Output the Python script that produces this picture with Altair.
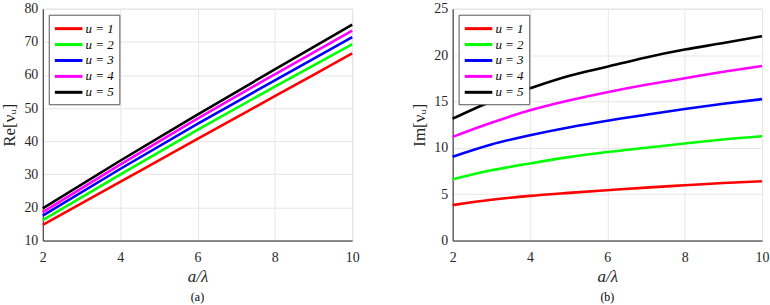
import altair as alt
import pandas as pd

# Normalised aperture a/lambda
re_x = [2, 4, 6, 8, 10]
im_x = [2, 3, 4, 5, 6, 7, 8, 9, 10]

series = ["u = 1", "u = 2", "u = 3", "u = 4", "u = 5"]
colors = ["#ff0000", "#00ff00", "#0000ff", "#ff00ff", "#000000"]

# Real part of nu_u for each mode u
re_vals = {
    "u = 1": [14.7, 27.7, 40.7, 53.6, 66.5],
    "u = 2": [16.2, 29.9, 43.4, 56.5, 69.3],
    "u = 3": [17.5, 31.6, 45.2, 58.4, 71.4],
    "u = 4": [18.6, 32.9, 46.8, 60.2, 73.4],
    "u = 5": [19.7, 34.1, 48.0, 61.7, 75.2],
}

# Imaginary part of nu_u for each mode u
im_vals = {
    "u = 1": [3.82, 4.39, 4.82, 5.14, 5.43, 5.71, 5.96, 6.21, 6.39],
    "u = 2": [6.60, 7.57, 8.32, 9.00, 9.54, 10.00, 10.46, 10.90, 11.25],
    "u = 3": [9.04, 10.36, 11.36, 12.20, 12.93, 13.57, 14.18, 14.75, 15.25],
    "u = 4": [11.18, 12.70, 14.04, 15.10, 16.00, 16.80, 17.50, 18.20, 18.82],
    "u = 5": [13.14, 15.00, 16.43, 17.75, 18.75, 19.75, 20.60, 21.30, 22.04],
}


def long_table(xs, vals):
    rows = []
    for s in series:
        for x, v in zip(xs, vals[s]):
            rows.append({"x": x, "v": v, "u": s})
    return pd.DataFrame(rows)


re_df = long_table(re_x, re_vals)
im_df = long_table(im_x, im_vals)

SERIF = "Liberation Serif"
INK = "#262626"
W, H = 311, 233


def panel(df, ymin, ymax, ystep, ytitle, tag):
    x_axis = alt.Axis(
        values=[2, 4, 6, 8, 10], title="a/λ", titleFont=SERIF, titleFontSize=17,
        titleFontStyle="italic", titleFontWeight="normal", titleColor=INK,
        titlePadding=4, labelFont=SERIF, labelFontSize=14, labelColor=INK,
        labelPadding=10, ticks=False, domainColor=INK, gridColor="#e6e6e6",
        labelFlush=False,
    )
    y_axis = alt.Axis(
        values=list(range(ymin, ymax + 1, ystep)), title=ytitle, titleFont=SERIF,
        titleFontSize=17, titleFontWeight="normal", titleColor=INK,
        titlePadding=5, labelFont=SERIF, labelFontSize=14, labelColor=INK,
        labelPadding=5, ticks=False, domainColor=INK, gridColor="#e6e6e6",
        labelFlush=False,
    )
    # long flat swatch on a small nominal symbol size keeps the rows compact
    legend = alt.Legend(
        title=None, orient="top-left", offset=6, symbolType="M-1.85,0L1.85,0",
        symbolSize=225, symbolStrokeWidth=3, symbolOffset=6, labelFont=SERIF,
        labelFontSize=13, labelFontStyle="italic", labelColor="#000000",
        strokeColor="#555555", fillColor="#ffffff", padding=5, rowPadding=0,
        labelOffset=8, cornerRadius=0,
    )
    return (
        alt.Chart(df)
        .mark_line(strokeWidth=2.6, interpolate="monotone")
        .encode(
            x=alt.X("x:Q", scale=alt.Scale(domain=[2, 10], nice=False), axis=x_axis),
            y=alt.Y("v:Q", scale=alt.Scale(domain=[ymin, ymax], nice=False), axis=y_axis),
            color=alt.Color("u:N", scale=alt.Scale(domain=series, range=colors), legend=legend),
            detail="u:N",
        )
        .properties(
            width=W, height=H,
            title=alt.TitleParams(tag, orient="bottom", font=SERIF, fontSize=12,
                                  fontWeight="normal", color="#000000", offset=8),
        )
    )


left = panel(re_df, 10, 80, 10, "Re[νᵤ]", "(a)")
right = panel(im_df, 0, 25, 5, "Im[νᵤ]", "(b)")

chart = (
    alt.hconcat(left, right, spacing=50)
    .resolve_scale(color="independent", y="independent")
    .configure_view(stroke=None)
    .configure(padding={"left": 0, "top": 0, "right": 0, "bottom": 0}, background="white")
)

chart.save("out.html", embed_options={"renderer": "svg", "actions": False})
